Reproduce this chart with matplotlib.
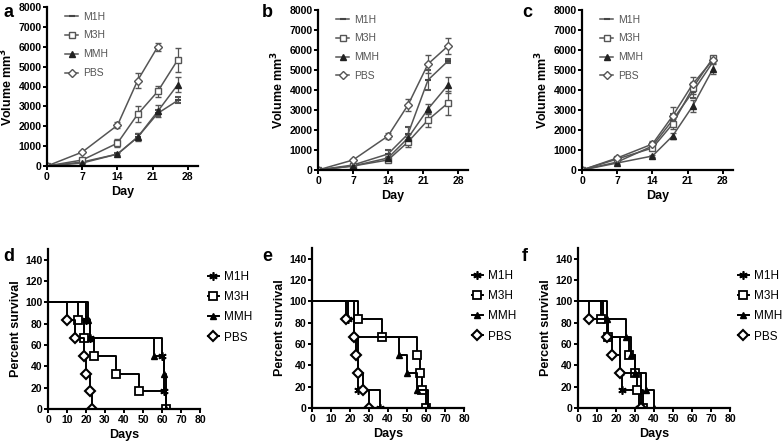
import numpy as np
import matplotlib
matplotlib.use("Agg")
import matplotlib.pyplot as plt
from matplotlib.lines import Line2D

plt.rcParams['font.family'] = ['Liberation Sans', 'DejaVu Sans']
plt.rcParams['font.weight'] = 'bold'

groups = ['M1H', 'M3H', 'MMH', 'PBS']

# tumour volume (mm^3) per day
days = [0, 7, 14, 18, 22, 26]
vol_a = {
    'M1H': [0, 200, 600, 1450, 2650, 3300],
    'M3H': [0, 300, 1150, 2600, 3750, 5350],
    'MMH': [0, 150, 600, 1450, 2750, 4100],
    'PBS': [0, 700, 2050, 4300, 6000],
}
err_a = {
    'M1H': [0, 50, 60, 150, 150, 150],
    'M3H': [0, 60, 200, 400, 300, 600],
    'MMH': [0, 40, 60, 200, 300, 400],
    'PBS': [0, 60, 150, 400, 200],
}
vol_b = {
    'M1H': [0, 250, 800, 1800, 4500, 5450],
    'M3H': [0, 200, 500, 1400, 2500, 3350],
    'MMH': [0, 200, 600, 1600, 3050, 4250],
    'PBS': [0, 500, 1700, 3250, 5300, 6200],
}
err_b = {
    'M1H': [0, 40, 200, 350, 500, 80],
    'M3H': [0, 40, 100, 250, 350, 600],
    'MMH': [0, 40, 100, 200, 250, 400],
    'PBS': [0, 60, 150, 300, 450, 400],
}
vol_c = {
    'M1H': [0, 400, 1200, 2500, 3900, 5400],
    'M3H': [0, 550, 1100, 2300, 4100, 5600],
    'MMH': [0, 350, 700, 1700, 3200, 5050],
    'PBS': [0, 600, 1300, 2700, 4300, 5500],
}
err_c = {
    'M1H': [0, 50, 150, 300, 300, 100],
    'M3H': [0, 50, 100, 250, 300, 100],
    'MMH': [0, 50, 60, 150, 300, 250],
    'PBS': [0, 60, 150, 450, 350, 150],
}

# survival: event days and percent surviving after each event
surv_d = {
    'M1H': ([0, 20, 22, 60, 61, 62], [100, 83, 67, 50, 17, 0]),
    'M3H': ([0, 16, 19, 24, 36, 48, 62], [100, 83, 67, 50, 33, 17, 0]),
    'MMH': ([0, 21, 22, 56, 61, 62], [100, 83, 67, 50, 33, 0]),
    'PBS': ([0, 10, 14, 19, 20, 22, 23], [100, 83, 67, 50, 33, 17, 0]),
}
surv_e = {
    'M1H': ([0, 19, 22, 24, 36], [100, 83, 67, 17, 0]),
    'M3H': ([0, 24, 37, 55, 57, 58, 60], [100, 83, 67, 50, 33, 17, 0]),
    'MMH': ([0, 22, 46, 50, 55, 61], [100, 67, 50, 33, 17, 0]),
    'PBS': ([0, 18, 22, 23, 24, 27, 30], [100, 83, 67, 50, 33, 17, 0]),
}
surv_f = {
    'M1H': ([0, 13, 16, 22, 23, 32], [100, 83, 67, 33, 17, 0]),
    'M3H': ([0, 12, 16, 27, 30, 31, 34], [100, 83, 67, 50, 33, 17, 0]),
    'MMH': ([0, 15, 25, 28, 30, 36, 40], [100, 83, 67, 50, 33, 17, 0]),
    'PBS': ([0, 6, 15, 18, 22, 33], [100, 83, 67, 50, 33, 0]),
}

W, H = 784, 447
fig = plt.figure(figsize=(W / 100, H / 100), dpi=100)


def box(l, t, r, b):
    return [l / W, 1 - b / H, (r - l) / W, (b - t) / H]


def style(ax):
    for s in ['top', 'right']:
        ax.spines[s].set_visible(False)
    for s in ['left', 'bottom']:
        ax.spines[s].set_linewidth(1.6)
    ax.tick_params(width=1.4, length=3, labelsize=7.5, pad=1)
    for lab in ax.get_xticklabels() + ax.get_yticklabels():
        lab.set_fontweight('bold')


top_mk = {'M1H': dict(marker='_', ms=5, mfc='#444', mec='#444', mew=1.5),
          'M3H': dict(marker='s', ms=5, mfc='white', mec='#555'),
          'MMH': dict(marker='^', ms=4, mfc='#222', mec='#222'),
          'PBS': dict(marker='D', ms=4.5, mfc='white', mec='#555')}


def volume_panel(rect, vol, err, letter, lx):
    ax = fig.add_axes(box(*rect))
    handles = []
    for g in groups:
        x = days[:len(vol[g])]
        ax.errorbar(x, vol[g], yerr=err[g], color='#555', lw=1.1,
                    capsize=2, elinewidth=0.9, **top_mk[g])
        handles.append(Line2D([], [], color='#555', lw=1.1, label=g, **top_mk[g]))
    ax.set_xlim(0, 30)
    ax.set_ylim(0, 8000)
    ax.set_xticks([0, 7, 14, 21, 28])
    ax.set_yticks(range(0, 8001, 1000))
    ax.set_xlabel('Day', fontsize=9, fontweight='bold', labelpad=3)
    ax.set_ylabel('Volume mm$^\\mathbf{3}$', fontsize=9, fontweight='bold', labelpad=2)
    style(ax)
    leg = ax.legend(handles=handles, loc='upper left', bbox_to_anchor=(0.06, 1.03),
                    frameon=False, prop={'size': 7.5, 'weight': 'normal'},
                    labelcolor='#555', handlelength=1.2,
                    handletextpad=0.5, labelspacing=0.85)
    fig.text(lx / W, 1 - 4 / H, letter, fontsize=13, fontweight='bold', va='top')
    return ax


bot_mk = {'M1H': dict(marker=(6, 2, 0), ms=6, mfc='k', mec='k', mew=1.2),
          'M3H': dict(marker='s', ms=5.5, mfc='white', mec='k', mew=1.3),
          'MMH': dict(marker='^', ms=5, mfc='k', mec='k'),
          'PBS': dict(marker='D', ms=5, mfc='white', mec='k', mew=1.5)}


def survival_panel(rect, surv, letter, lx):
    ax = fig.add_axes(box(*rect))
    handles = []
    for g in groups:
        t, s = surv[g]
        ax.step(t, s, where='post', color='k', lw=1.4)
        ax.plot(t[1:], s[1:], ls='none', **bot_mk[g])
        handles.append(Line2D([], [], color='k', lw=1.4, label=g, **bot_mk[g]))
    ax.set_xlim(0, 80)
    ax.set_ylim(0, 150)
    ax.set_xticks(range(0, 81, 10))
    ax.set_yticks(range(0, 141, 20))
    ax.set_xlabel('Days', fontsize=9, fontweight='bold', labelpad=3)
    ax.set_ylabel('Percent survival', fontsize=9, fontweight='bold', labelpad=2)
    style(ax)
    ax.legend(handles=handles, loc='upper left', bbox_to_anchor=(0.98, 0.93),
              frameon=False, prop={'size': 8.5, 'weight': 'normal'},
              handlelength=1.0, handletextpad=0.35, labelspacing=0.7)
    fig.text(lx / W, 1 - 248 / H, letter, fontsize=13, fontweight='bold', va='top')
    return ax


volume_panel((47, 7, 198, 166), vol_a, err_a, 'a', 3)
volume_panel((318, 10, 468, 170), vol_b, err_b, 'b', 262)
volume_panel((582, 10, 733, 170), vol_c, err_c, 'c', 522)

survival_panel((48, 249, 200, 409), surv_d, 'd', 3)
survival_panel((312, 248, 464, 408), surv_e, 'e', 262)
survival_panel((578, 248, 730, 408), surv_f, 'f', 522)

fig.savefig('out.png', dpi=100)
